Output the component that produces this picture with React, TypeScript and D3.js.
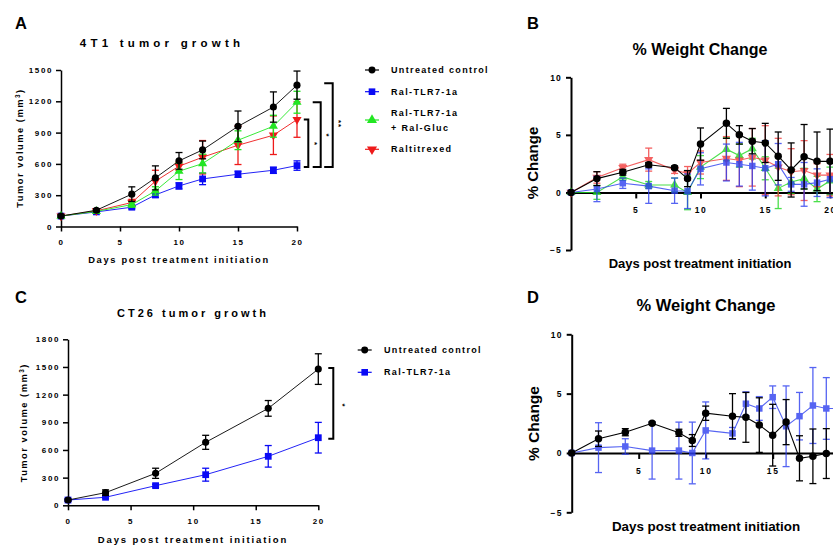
import * as d3 from 'd3';
import React, { useEffect, useRef } from 'react';

// ---- Panel A: 4T1 tumor growth (mm3) ----
const daysA = [0, 3, 6, 8, 10, 12, 15, 18, 20];
const controlA = [100, 156, 310, 466, 629, 734, 960, 1145, 1355];
const controlAErr = [10, 15, 70, 115, 80, 85, 147, 145, 135];
const ralTlrA = [100, 140, 185, 303, 389, 456, 501, 539, 584];
const ralTlrAErr = [10, 10, 15, 25, 30, 55, 30, 30, 45];
const ralGlucA = [100, 145, 210, 341, 530, 603, 827, 961, 1191];
const ralGlucAErr = [10, 10, 25, 40, 80, 90, 90, 105, 105];
const raltitrexedA = [100, 150, 230, 434, 578, 664, 779, 875, 1025];
const raltitrexedAErr = [10, 10, 30, 105, 40, 160, 185, 185, 170];

// ---- Panel C: CT26 tumor growth (mm3) ----
const daysC = [0, 3, 7, 11, 16, 20];
const controlC = [57, 137, 347, 683, 1051, 1477];
const controlCErr = [10, 30, 55, 76, 85, 166];
const ralTlrC = [57, 87, 213, 332, 531, 733];
const ralTlrCErr = [10, 10, 15, 70, 117, 166];

// ---- Panel B: % weight change (4T1) ----
const daysB = [0, 2, 4, 6, 8, 9, 10, 12, 13, 14, 15, 16, 17, 18, 19, 20, 21];
const controlB = [0, 1.2, 1.75, 2.4, 2.15, 1.2, 4.2, 6.0, 5.0, 4.45, 4.3, 3.15, 1.95, 3.1, 2.7, 2.7, 2.7];
const controlBErr = [0, 0.6, 0.25, 0.2, 0.15, 0.7, 1.4, 1.3, 0.8, 1.1, 1.7, 2.1, 2.35, 2.8, 2.55, 2.8, 2.8];
const ralTlrB = [0, 0.3, 0.8, 0.55, 0.15, 0.1, 2.05, 2.6, 2.45, 2.3, 2.1, 2.45, 0.7, 0.7, 0.85, 1.15, 1.15];
const ralTlrBErr = [0, 1.1, 0.45, 1.5, 1.1, 1.5, 1.4, 1.6, 1.9, 2.1, 2.4, 1.8, 0.6, 1.9, 1.2, 1.6, 1.6];
const ralGlucB = [0, 0, 1.35, 0.65, 0.65, 0, 2.2, 3.75, 3.2, 3.8, 2.1, 0.35, 0.9, 1.2, 0.3, 1.0, 1.0];
const ralGlucBErr = [0, 0.6, 0.3, 0.3, 0.6, 1.5, 1.0, 1.0, 1.0, 0.9, 1.0, 1.75, 1.0, 0.9, 1.1, 1.2, 1.2];
const raltitrexedB = [0, 1.3, 2.15, 2.85, 1.95, 1.65, 2.6, 2.95, 2.8, 3.05, 2.8, 2.2, 1.8, 1.9, 1.5, 1.5, 1.5];
const raltitrexedBErr = [0, 0.5, 0.3, 1.0, 0.3, 0.6, 1.0, 1.9, 2.3, 2.5, 3.0, 2.5, 2.0, 2.6, 1.0, 1.8, 1.8];

// ---- Panel D: % weight change (CT26) ----
const daysD = [0, 2, 4, 6, 8, 9, 10, 12, 13, 14, 15, 16, 17, 18, 19, 20];
const controlD = [0, 1.2, 1.75, 2.5, 1.7, 1.05, 3.35, 3.1, 3.0, 2.35, 1.5, 2.6, -0.45, -0.28, -0.05, 0];
const controlDErr = [0, 0.65, 0.3, 0.1, 0.3, 0.5, 0.6, 1.9, 2.1, 2.3, 2.6, 1.9, 1.9, 2.3, 2.1, 2.1];
const ralTlrD = [0, 0.45, 0.55, 0.2, 0.2, 0, 1.9, 1.65, 4.15, 3.75, 4.7, 2.25, 3.1, 4.0, 3.75, 3.75];
const ralTlrDErr = [0, 2.1, 0.65, 2.4, 2.4, 2.6, 2.4, 0.5, 1.0, 1.0, 0.95, 3.4, 2.0, 3.2, 2.6, 2.6];

const volumeTicksA = [0, 300, 600, 900, 1200, 1500];
const volumeTicksC = [0, 300, 600, 900, 1200, 1500, 1800];
const dayTicks = [0, 5, 10, 15, 20];
const weightTicksY = [-5, 0, 5, 10];
const weightTicksX = [5, 10, 15, 20];

const FONT = '"Liberation Sans", Arial, sans-serif';

const styleAxis = (g, size, spacing, sw) => {
	g.attr('font-family', FONT).attr('font-size', size).attr('font-weight', 'bold');
	g.select('.domain').attr('stroke', '#000').attr('stroke-width', sw);
	g.selectAll('.tick line').attr('stroke', '#000').attr('stroke-width', sw);
	g.selectAll('.tick text').attr('fill', '#000').attr('letter-spacing', spacing);
};

const txt = (g, s, x, y, size, opts: any = {}) => {
	const t = g.append('text')
		.attr('x', x).attr('y', y)
		.attr('font-family', FONT)
		.attr('font-size', size)
		.attr('font-weight', 'bold')
		.attr('text-anchor', opts.anchor || 'start')
		.attr('letter-spacing', opts.spacing || 0)
		.attr('fill', '#000')
		.text(s);
	if (opts.rotate) t.attr('transform', `rotate(${opts.rotate},${x},${y})`);
	return t;
};

const marker = (g, shape, x, y, size, color) => {
	const sym = shape === 'circle' ? d3.symbolCircle : shape === 'square' ? d3.symbolSquare : d3.symbolTriangle;
	g.append('path')
		.attr('d', d3.symbol(sym, size)())
		.attr('transform', `translate(${x},${y})` + (shape === 'down' ? ' rotate(180)' : ''))
		.attr('fill', color);
};

const drawSeries = (g, x, y, days, vals, errs, s) => {
	const pts = days.map((d, i) => ({ d, v: vals[i], e: errs[i] }));
	const sg = g.append('g').attr('opacity', s.opacity || 1);
	pts.forEach(p => {
		if (!p.e) return;
		const cx = x(p.d);
		const y1 = y(p.v + p.e), y2 = y(p.v - p.e);
		sg.append('line').attr('x1', cx).attr('x2', cx).attr('y1', y1).attr('y2', y2)
			.attr('stroke', s.color).attr('stroke-width', s.ew);
		[y1, y2].forEach(yy => sg.append('line')
			.attr('x1', cx - s.cap).attr('x2', cx + s.cap).attr('y1', yy).attr('y2', yy)
			.attr('stroke', s.color).attr('stroke-width', s.ew));
	});
	sg.append('path')
		.datum(pts)
		.attr('d', d3.line<any>().x(p => x(p.d)).y(p => y(p.v)))
		.attr('fill', 'none').attr('stroke', s.color).attr('stroke-width', s.lw);
	pts.forEach(p => marker(sg, s.shape, x(p.d), y(p.v), s.size, s.color));
};

const legendRow = (g, x, y, shape, color, lines, textX) => {
	g.append('line').attr('x1', x - 7).attr('x2', x + 7).attr('y1', y).attr('y2', y)
		.attr('stroke', color).attr('stroke-width', 1.2);
	marker(g, shape, x, y, shape === 'circle' ? 38 : 44, color);
	lines.forEach((l, i) => {
		const ty = y + (lines.length > 1 ? (i === 0 ? -7.5 : 8) : 0);
		txt(g, l, textX, ty, 9, { spacing: 1.35 }).attr('dy', '0.35em');
	});
};

const bracket = (g, x, yTop, yBot, arm) => {
	g.append('path')
		.attr('d', `M${x - arm},${yTop}H${x}V${yBot}H${x - arm}`)
		.attr('fill', 'none').attr('stroke', '#000').attr('stroke-width', 2);
};

const App = () => {
	const chartRef = useRef(null);

	useEffect(() => {
		const svg = d3.select(chartRef.current);
		svg.selectAll('*').remove();
		const fmt = d3.format('d');

		// ================= Panel A =================
		const xA = d3.scaleLinear().domain([0, 20]).range([61, 297]);
		const yA = d3.scaleLinear().domain([0, 1500]).range([226.5, 70]);
		const gA = svg.append('g');
		txt(gA, 'A', 15, 28.5, 16.5);
		txt(gA, '4T1 tumor growth', 162, 46.5, 11.5, { anchor: 'middle', spacing: 4.2 });
		styleAxis(gA.append('g').attr('transform', 'translate(61,0)')
			.call(d3.axisLeft(yA).tickValues(volumeTicksA).tickFormat(fmt).tickSize(5).tickPadding(3).tickSizeOuter(0)), 8, 1.6, 1.5);
		styleAxis(gA.append('g').attr('transform', 'translate(0,226.5)')
			.call(d3.axisBottom(xA).tickValues(dayTicks).tickFormat(fmt).tickSize(5).tickPadding(8).tickSizeOuter(0)), 8, 1.6, 1.5);
		txt(gA, 'Days post treatment initiation', 179, 262.5, 9.3, { anchor: 'middle', spacing: 1.7 });
		const ylA = txt(gA, 'Tumor volume (mm', 23, 148, 9.3, { anchor: 'middle', spacing: 1.5, rotate: -90 });
		ylA.append('tspan').attr('baseline-shift', 'super').attr('font-size', 6.5).text('3');
		ylA.append('tspan').text(')');

		const seriesA = [
			{ v: ralTlrA, e: ralTlrAErr, color: '#0a0af5', shape: 'square' },
			{ v: raltitrexedA, e: raltitrexedAErr, color: '#ee1a1a', shape: 'down' },
			{ v: ralGlucA, e: ralGlucAErr, color: '#22e622', shape: 'up' },
			{ v: controlA, e: controlAErr, color: '#000000', shape: 'circle' },
		];
		seriesA.forEach(s => drawSeries(gA, xA, yA, daysA, s.v, s.e, {
			color: s.color, shape: s.shape, lw: 0.9, ew: 1.3, cap: 3.5,
			size: s.shape === 'circle' ? 40 : s.shape === 'square' ? 46 : 36,
		}));

		const yBlueEnd = yA(ralTlrA[ralTlrA.length - 1]) + 1.5;
		bracket(gA, 308.3, yA(raltitrexedA[8]), yBlueEnd, 4.5);
		bracket(gA, 320.7, yA(ralGlucA[8]), yBlueEnd, 8);
		bracket(gA, 332.7, yA(controlA[8]) - 2, yBlueEnd, 8.5);
		txt(gA, '*', 311.5, 143.5, 8, { anchor: 'middle', rotate: 90 });
		txt(gA, '*', 323.5, 135, 8, { anchor: 'middle', rotate: 90 });
		txt(gA, '**', 335.5, 124, 8, { anchor: 'middle', rotate: 90, spacing: 1 });

		legendRow(gA, 372, 70, 'circle', '#000000', ['Untreated control'], 391);
		legendRow(gA, 372, 91.7, 'square', '#0a0af5', ['Ral-TLR7-1a'], 391);
		legendRow(gA, 372, 120, 'up', '#22e622', ['Ral-TLR7-1a', '+ Ral-Gluc'], 391);
		legendRow(gA, 372, 149.3, 'down', '#ee1a1a', ['Raltitrexed'], 391);

		// ================= Panel C =================
		const xC = d3.scaleLinear().domain([0, 20]).range([68, 318.3]);
		const yC = d3.scaleLinear().domain([0, 1800]).range([505.3, 339.3]);
		const gC = svg.append('g');
		txt(gC, 'C', 15, 303.3, 16.5);
		txt(gC, 'CT26 tumor growth', 193, 316.7, 11, { anchor: 'middle', spacing: 3 });
		styleAxis(gC.append('g').attr('transform', 'translate(68,0)')
			.call(d3.axisLeft(yC).tickValues(volumeTicksC).tickFormat(fmt).tickSize(5).tickPadding(3).tickSizeOuter(0)), 8, 1.6, 1.5);
		styleAxis(gC.append('g').attr('transform', 'translate(0,505.3)')
			.call(d3.axisBottom(xC).tickValues(dayTicks).tickFormat(fmt).tickSize(5).tickPadding(8).tickSizeOuter(0)), 8, 1.6, 1.5);
		txt(gC, 'Days post treatment initiation', 193, 542.5, 9.5, { anchor: 'middle', spacing: 1.9 });
		const ylC = txt(gC, 'Tumor volume (mm', 27, 422.7, 9.3, { anchor: 'middle', spacing: 1.5, rotate: -90 });
		ylC.append('tspan').attr('baseline-shift', 'super').attr('font-size', 6.5).text('3');
		ylC.append('tspan').text(')');

		drawSeries(gC, xC, yC, daysC, ralTlrC, ralTlrCErr, { color: '#0a0af5', shape: 'square', lw: 0.9, ew: 1.3, cap: 3.5, size: 46 });
		drawSeries(gC, xC, yC, daysC, controlC, controlCErr, { color: '#000000', shape: 'circle', lw: 0.9, ew: 1.3, cap: 3.5, size: 40 });
		bracket(gC, 333.3, yC(controlC[5]) - 1, yC(ralTlrC[5]) + 1, 5);
		txt(gC, '*', 339.5, 405, 8, { anchor: 'middle', rotate: 90 });

		legendRow(gC, 364.7, 350, 'circle', '#000000', ['Untreated control'], 384);
		legendRow(gC, 364.7, 372.3, 'square', '#0a0af5', ['Ral-TLR7-1a'], 384);

		// ================= Panel B =================
		const xB = d3.scaleLinear().domain([0, 25]).range([571, 571 + 25 * 12.95]);
		const yB = d3.scaleLinear().domain([-5, 10]).range([250, 77.3]);
		const gB = svg.append('g');
		txt(gB, 'B', 527, 28.5, 16.5);
		txt(gB, '% Weight Change', 700, 55, 16, { anchor: 'middle' });
		styleAxis(gB.append('g').attr('transform', 'translate(571,0)')
			.call(d3.axisLeft(yB).tickValues(weightTicksY).tickFormat(fmt).tickSize(5).tickPadding(4).tickSizeOuter(0)), 8.5, 1.2, 2);
		styleAxis(gB.append('g').attr('transform', `translate(0,${yB(0)})`)
			.call(d3.axisBottom(xB).tickValues(weightTicksX).tickFormat(fmt).tickSize(6).tickPadding(9).tickSizeOuter(0)), 8.5, 1.6, 2);
		txt(gB, 'Days post treatment initiation', 700, 267.6, 13, { anchor: 'middle' });
		txt(gB, '% Change', 537.5, 163, 15, { anchor: 'middle', rotate: -90 });

		const seriesB = [
			{ v: ralGlucB, e: ralGlucBErr, color: '#1fd81f', shape: 'up' },
			{ v: raltitrexedB, e: raltitrexedBErr, color: '#f23a3a', shape: 'down' },
			{ v: ralTlrB, e: ralTlrBErr, color: '#2c3ef0', shape: 'square' },
			{ v: controlB, e: controlBErr, color: '#000000', shape: 'circle' },
		];
		seriesB.forEach(s => drawSeries(gB, xB, yB, daysB, s.v, s.e, {
			color: s.color, shape: s.shape, lw: 1.1, ew: 1.3, cap: 3.5,
			size: s.shape === 'circle' ? 44 : s.shape === 'square' ? 42 : 36,
			opacity: s.color === '#000000' ? 1 : 0.8,
		}));

		// ================= Panel D =================
		const xD = d3.scaleLinear().domain([0, 25]).range([571.7, 571.7 + 25 * 13.4]);
		const yD = d3.scaleLinear().domain([-5, 10]).range([512.3, 334.3]);
		const gD = svg.append('g');
		txt(gD, 'D', 527, 303.3, 16.5);
		txt(gD, '% Weight Change', 706, 311, 16.5, { anchor: 'middle' });
		styleAxis(gD.append('g').attr('transform', 'translate(571.7,0)')
			.call(d3.axisLeft(yD).tickValues(weightTicksY).tickFormat(fmt).tickSize(5).tickPadding(4).tickSizeOuter(0)), 8.5, 1.2, 2);
		styleAxis(gD.append('g').attr('transform', `translate(0,${yD(0)})`)
			.call(d3.axisBottom(xD).tickValues(weightTicksX).tickFormat(fmt).tickSize(6).tickPadding(9).tickSizeOuter(0)), 8.5, 1.6, 2);
		txt(gD, 'Days post treatment initiation', 706, 531, 13.4, { anchor: 'middle' });
		txt(gD, '% Change', 538.5, 423.5, 15.5, { anchor: 'middle', rotate: -90 });

		drawSeries(gD, xD, yD, daysD, ralTlrD, ralTlrDErr, { color: '#2c3ef0', shape: 'square', lw: 1.1, ew: 1.3, cap: 3.5, size: 42, opacity: 0.8 });
		drawSeries(gD, xD, yD, daysD, controlD, controlDErr, { color: '#000000', shape: 'circle', lw: 1.1, ew: 1.3, cap: 3.5, size: 44 });
	}, []);

	return (
		<svg ref={chartRef} width={833} height={546}
			style={{ position: 'absolute', left: 0, top: 0, background: '#fff' }} />
	);
};

export default App;
